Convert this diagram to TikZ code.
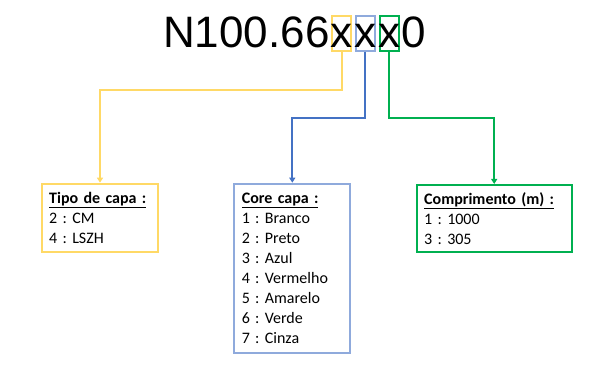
\documentclass[tikz,border=0pt]{standalone}
\usepackage{fontspec}
\setmainfont{Carlito}
\newfontfamily\codefont{Liberation Sans}
\usetikzlibrary{positioning,arrows.meta}
\definecolor{capayellow}{HTML}{FFD966}
\definecolor{capablue}{HTML}{8FAADC}
\definecolor{lineblue}{HTML}{4472C4}
\definecolor{capagreen}{HTML}{00B050}
\frenchspacing

\begin{document}
\begin{tikzpicture}[x=1pt,y=1pt,
    glyph/.style={inner sep=0pt, text height=31.7pt, text depth=3pt, font=\codefont\fontsize{44}{50}\selectfont},
    xbox/.style={glyph, draw=#1, line width=1.8pt, inner xsep=-1.5pt},
    infobox/.style={draw=#1, line width=2pt, anchor=north west, align=left, inner xsep=7.5pt, font=\fontsize{16}{20}\selectfont},
    link/.style={draw=#1, line width=2pt, -{Triangle[width=6pt,length=5pt]}}]
    \useasboundingbox (0,0) rectangle (589,379);

    % product code
    \node[glyph, anchor=base west] (code) at (163,331.3) {N100.66};
    \node[xbox=capayellow, base right=1.5pt of code] (xa) {x};
    \node[xbox=capablue, base right=3pt of xa] (xb) {x};
    \node[xbox=capagreen, base right=3pt of xb] (xc) {x};
    \node[glyph, base right=1.5pt of xc] (tail) {0};

    % option lists
    \node[infobox=capayellow, text width=101.6pt, minimum height=68pt] (tipo) at (40.7,196.3)
        {\textbf{\underline{Tipo de capa :}}\\2 : CM\\4 : LSZH};
    \node[infobox=capablue, text width=101pt, minimum height=169pt] (core) at (233.3,196.3)
        {\textbf{\underline{Core capa :}}\\1 : Branco\\2 : Preto\\3 : Azul\\4 : Vermelho\\5 : Amarelo\\6 : Verde\\7 : Cinza};
    \node[infobox=capagreen, text width=140pt, minimum height=66.7pt] (comp) at (415.7,195)
        {\textbf{\underline{Comprimento (m) :}}\\1 : 1000\\3 : 305};

    \draw[link=capayellow] (xa.south) -- ++(0,-38.3) -| (tipo.north);
    \draw[link=lineblue] (xb.south) -- ++(0,-66.3) -| (core.north);
    \draw[link=capagreen] (xc.south) -- ++(0,-66.3) -| (comp.north);
\end{tikzpicture}
\end{document}
